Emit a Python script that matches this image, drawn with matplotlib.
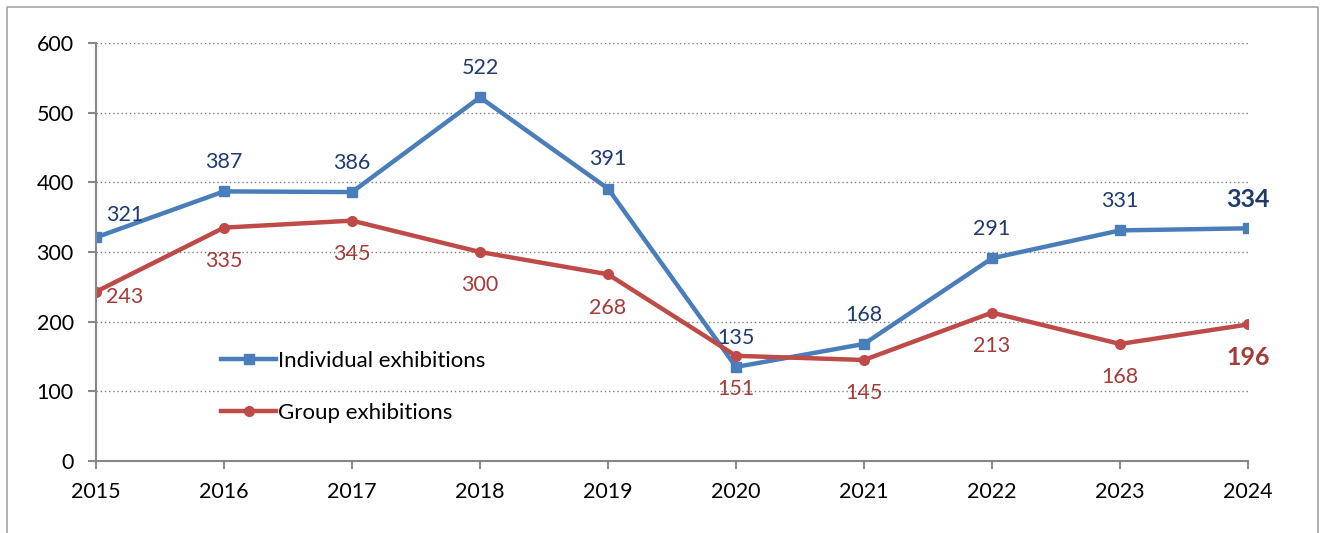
# -*- coding: utf-8 -*-
# Individual vs group exhibitions, 2015-2024

import matplotlib.pyplot as plt
from matplotlib.lines import Line2D

years = [2015, 2016, 2017, 2018, 2019, 2020, 2021, 2022, 2023, 2024]
individual = [321, 387, 386, 522, 391, 135, 168, 291, 331, 334]
group = [243, 335, 345, 300, 268, 151, 145, 213, 168, 196]
series_labels = ['Individual exhibitions', 'Group exhibitions']
yticks = [0, 100, 200, 300, 400, 500, 600]

blue = '#4A7EBB'
red = '#BE4B48'
blue_txt = '#1F3A6E'
red_txt = '#A33B38'
axis_gray = '#888888'

plt.rcParams['font.family'] = ['Lato', 'DejaVu Sans']

fig = plt.figure(figsize=(13.31, 5.33), dpi=100)
ax = fig.add_axes([96/1331, 1 - 461/533, (1248 - 96)/1331, (461 - 43)/533])

# outer frame (left, top, right)
fig.add_artist(Line2D([7/1331, 7/1331, 1318/1331, 1318/1331],
                      [0, 1 - 7/533, 1 - 7/533, 0],
                      color='#A6A6A6', lw=1.2, transform=fig.transFigure))

ax.plot(years, individual, color=blue, lw=3.2, marker='s', ms=7,
        label=series_labels[0], zorder=3)
ax.plot(years, group, color=red, lw=3.2, marker='o', ms=7,
        label=series_labels[1], zorder=3)

# data labels
fs = 15.5
for i, (x, v) in enumerate(zip(years, individual)):
    last = i == len(years) - 1
    if i == 0:
        ax.annotate(str(v), (x, v), xytext=(21, 16), textcoords='offset points',
                    ha='center', va='center', color=blue_txt, fontsize=fs)
    else:
        ax.annotate(str(v), (x, v), xytext=(0, 21), textcoords='offset points',
                    ha='center', va='center', color=blue_txt,
                    fontsize=18 if last else fs,
                    fontweight='bold' if last else 'normal')

for i, (x, v) in enumerate(zip(years, group)):
    last = i == len(years) - 1
    if i == 0:
        ax.annotate(str(v), (x, v), xytext=(21, -4), textcoords='offset points',
                    ha='center', va='center', color=red_txt, fontsize=fs)
    else:
        ax.annotate(str(v), (x, v), xytext=(0, -24), textcoords='offset points',
                    ha='center', va='center', color=red_txt,
                    fontsize=18 if last else fs,
                    fontweight='bold' if last else 'normal')

ax.set_xlim(years[0], years[-1])
ax.set_ylim(0, 600)
ax.set_xticks(years)
ax.set_yticks(yticks)
ax.tick_params(axis='both', labelsize=15.5, color=axis_gray, length=6, width=1.5,
               direction='out')
ax.tick_params(axis='y', pad=10)
ax.tick_params(axis='x', pad=9)

for y in yticks[1:]:
    ax.axhline(y, color='#7F7F7F', lw=1, ls=(0, (1, 2)), zorder=1)

for s in ['top', 'right']:
    ax.spines[s].set_visible(False)
for s in ['left', 'bottom']:
    ax.spines[s].set_color(axis_gray)
    ax.spines[s].set_linewidth(1.5)
ax.spines['left'].set_zorder(4)
ax.spines['bottom'].set_zorder(4)

leg = ax.legend(loc='upper left', bbox_to_anchor=(212/1331, 1 - 342/533),
                bbox_transform=fig.transFigure, frameon=False, fontsize=16,
                handlelength=2.5, handletextpad=0.05, labelspacing=1.45,
                borderaxespad=0)

plt.savefig('out.png', dpi=100)
